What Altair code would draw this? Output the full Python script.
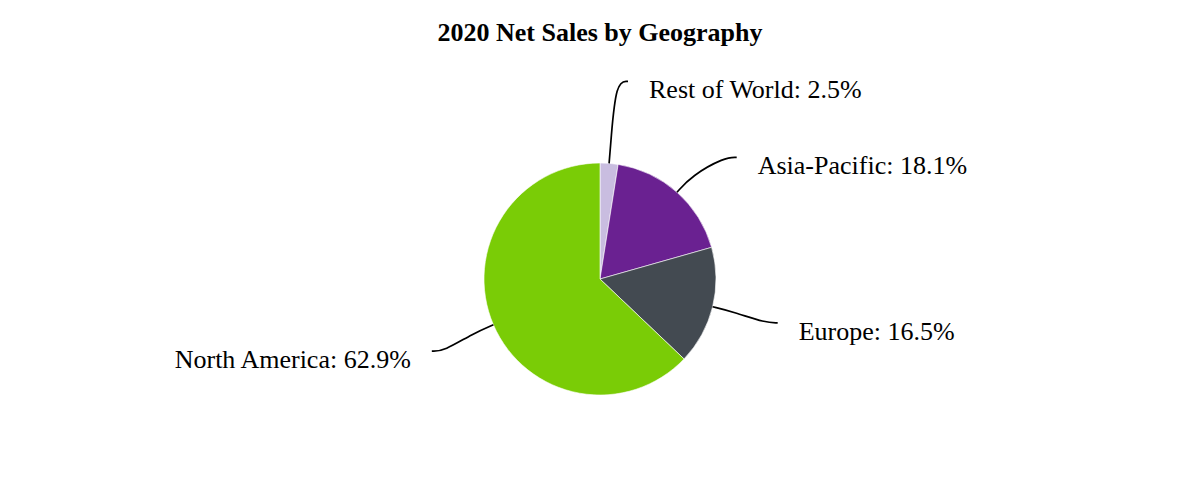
import math
import altair as alt
import pandas as pd

# ---- data ----
regions = ["Rest of World", "Asia-Pacific", "Europe", "North America"]
shares = [2.5, 18.1, 16.5, 62.9]
colors = ["#c9bde0", "#6a2191", "#434a51", "#7acc06"]

# ---- layout parameters (pixels) ----
W, H = 1184, 430
OX, OY = 8, 53          # plot-area origin on the page
CX, CY = 600 - OX, 280 - OY
R = 116                 # pie radius
LR = 183                # label/connector radius
MIN_GAP = 76            # minimal vertical gap between labels on one side
MIN_DX = 28

total = sum(shares)
info = []
cum = 0.0
for i, (name, v) in enumerate(zip(regions, shares)):
    mid = (cum + v / 2) / total * 2 * math.pi
    cum += v
    side = 1 if math.sin(mid) >= 0 else -1
    ny = CY - LR * math.cos(mid)
    info.append(dict(idx=i, region=name, share=v, mid=mid, side=side, y=ny))

# distribute labels vertically on each side
for side in (1, -1):
    items = sorted([d for d in info if d["side"] == side], key=lambda d: d["y"])
    for _ in range(20):
        for a, b in zip(items, items[1:]):
            gap = b["y"] - a["y"]
            if gap < MIN_GAP:
                push = (MIN_GAP - gap) / 2
                a["y"] -= push
                b["y"] += push

pie_rows, line_rows, text_rows = [], [], []
for d in info:
    dy = d["y"] - CY
    dx = math.sqrt(max(LR * LR - dy * dy, 0.0))
    dx = max(dx, MIN_DX)
    ex = CX + d["side"] * dx
    ey = d["y"]
    sx = CX + R * math.sin(d["mid"])
    sy = CY - R * math.cos(d["mid"])
    mx = CX + (R + 22) * math.sin(d["mid"])
    my = CY - (R + 22) * math.cos(d["mid"])
    pts = [(sx, sy), (mx, my), (ex - d["side"] * 12, ey), (ex, ey)]
    for k, (px, py) in enumerate(pts):
        line_rows.append(dict(region=d["region"], k=k, px=px, py=py))
    text_rows.append(dict(region=d["region"], side=d["side"],
                          tx=ex + d["side"] * 21, ty=ey + 9,
                          label=f"{d['region']}: {d['share']}%"))
    pie_rows.append(dict(idx=d["idx"], region=d["region"], share=d["share"]))

pie_df = pd.DataFrame(pie_rows)
line_df = pd.DataFrame(line_rows)
text_df = pd.DataFrame(text_rows)

pie = alt.Chart(pie_df).mark_arc(radius=R, stroke="white", strokeWidth=0.6).encode(
    theta=alt.Theta("share:Q", stack=True),
    color=alt.Color("region:N", scale=alt.Scale(domain=regions, range=colors), legend=None),
    order=alt.Order("idx:Q"),
    x=alt.value(CX),
    y=alt.value(CY),
)

lines = alt.Chart(line_df).mark_line(interpolate="basis", color="black", strokeWidth=1.7).encode(
    x=alt.X("px:Q", scale=None, axis=None),
    y=alt.Y("py:Q", scale=None, axis=None),
    detail="region:N",
    order="k:Q",
)

font = "Liberation Serif"
txt_right = alt.Chart(text_df).transform_filter("datum.side > 0").mark_text(
    align="left", baseline="middle", font=font, fontSize=26, color="black"
).encode(
    x=alt.X("tx:Q", scale=None, axis=None),
    y=alt.Y("ty:Q", scale=None, axis=None),
    text="label:N",
)
txt_left = alt.Chart(text_df).transform_filter("datum.side < 0").mark_text(
    align="right", baseline="middle", font=font, fontSize=26, color="black"
).encode(
    x=alt.X("tx:Q", scale=None, axis=None),
    y=alt.Y("ty:Q", scale=None, axis=None),
    text="label:N",
)

chart = alt.layer(pie, lines, txt_right, txt_left).properties(
    width=W, height=H,
    padding={"top": 12, "left": 0, "right": 0, "bottom": 0},
    title=alt.TitleParams("2020 Net Sales by Geography", font=font, fontSize=26,
                          fontWeight="bold", anchor="middle", color="black", offset=6),
).configure_view(stroke=None)

chart.save("out.html", embed_options={"renderer": "svg", "actions": False})
